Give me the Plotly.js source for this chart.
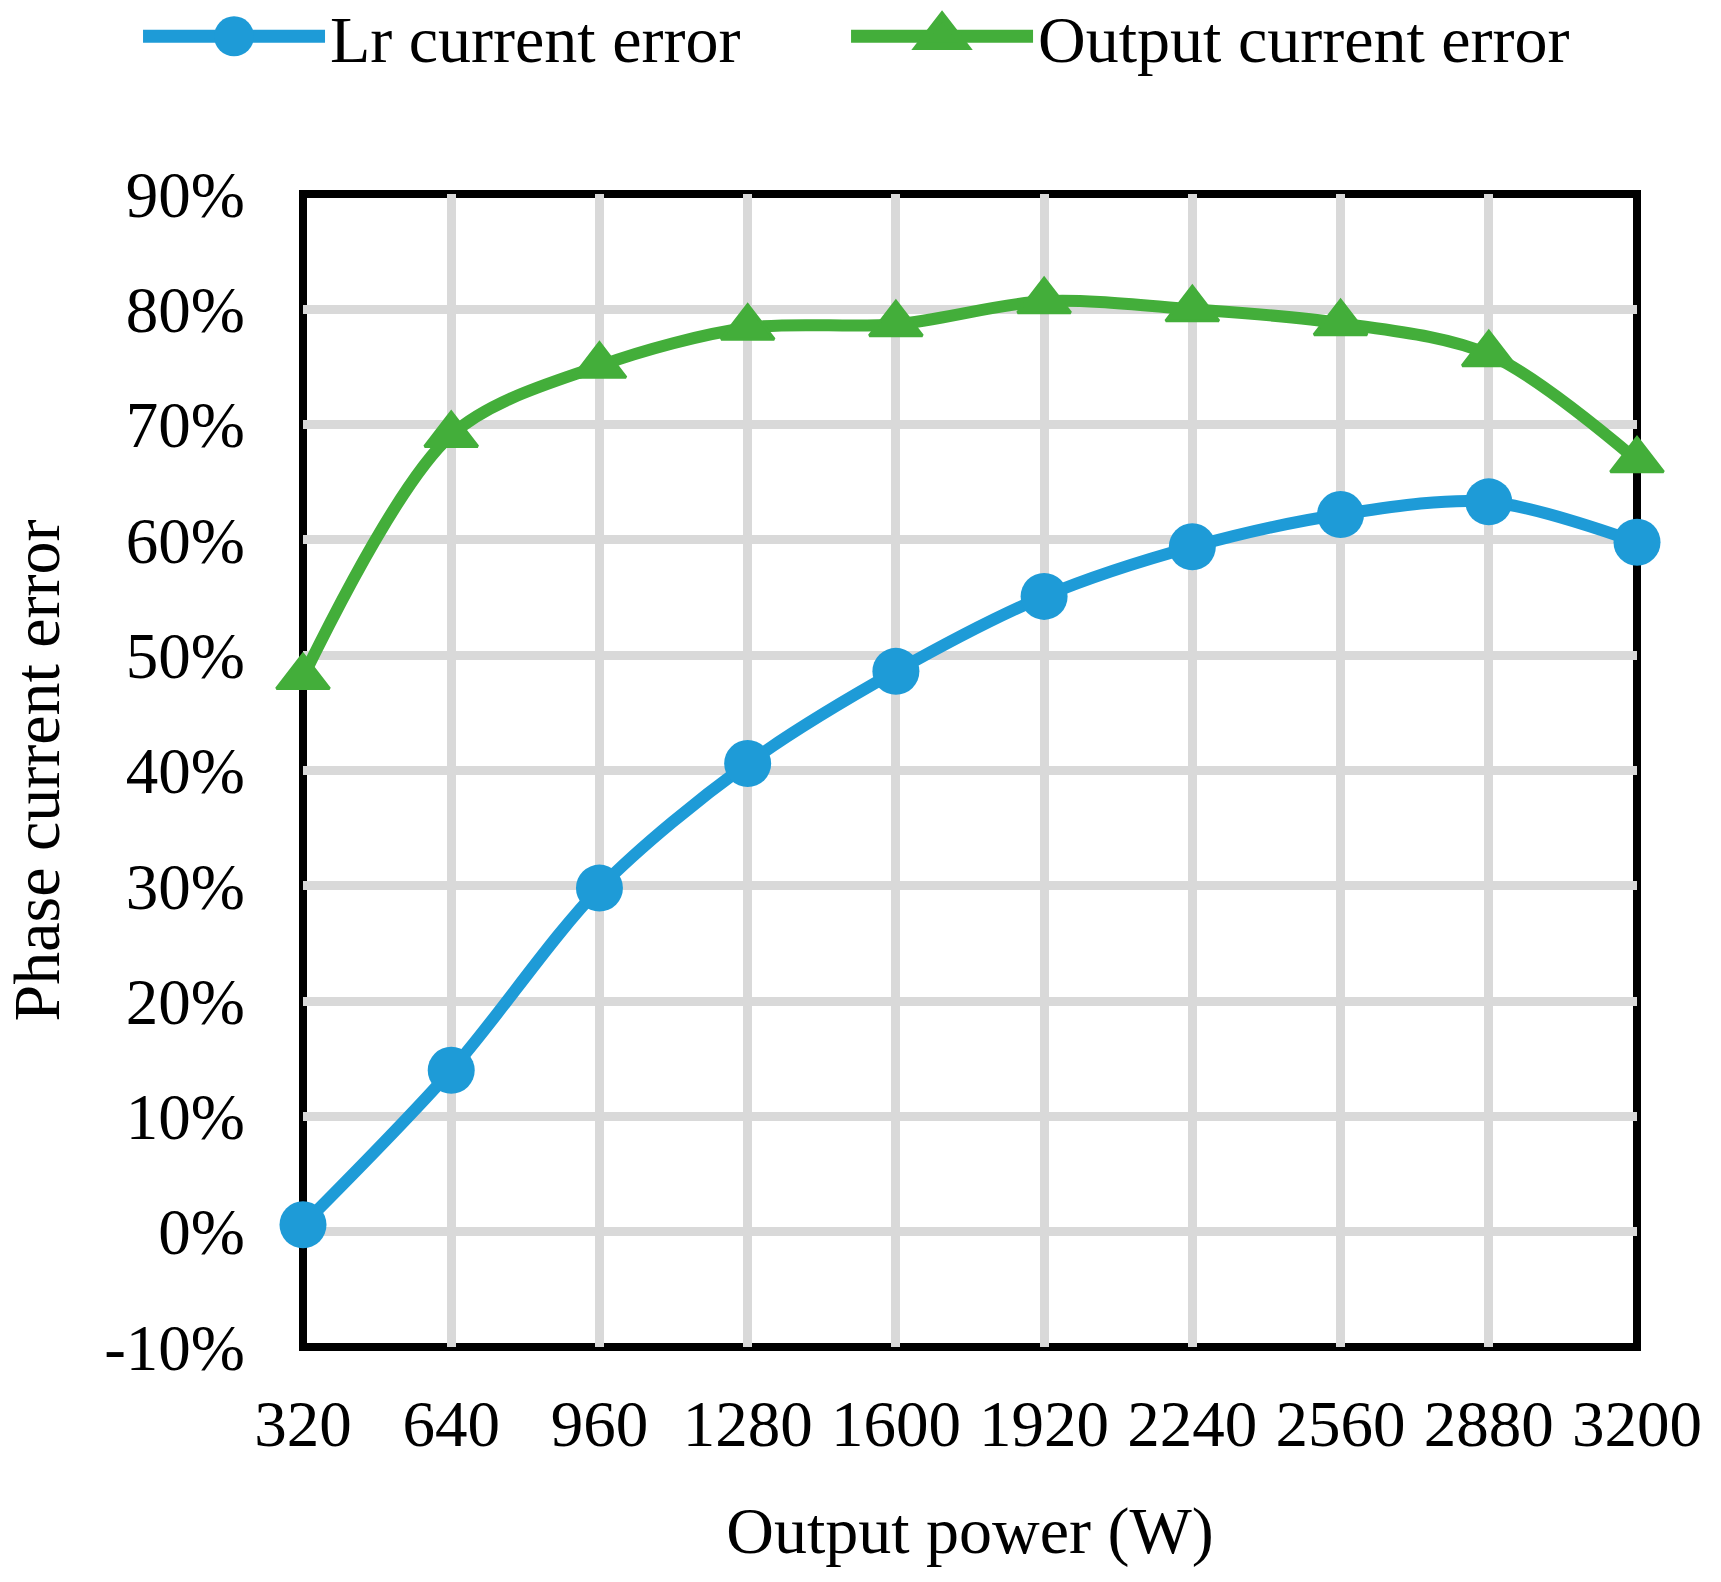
<!DOCTYPE html>
<html>
<head>
<meta charset="utf-8">
<script src="https://cdn.plot.ly/plotly-3.0.1.min.js"></script>
<style>
  html, body { margin: 0; padding: 0; background: #ffffff; }
  #chart { width: 1721px; height: 1582px; }
</style>
</head>
<body>
<div id="chart"></div>
<script>
// ---- data ----
var outputPower = [320, 640, 960, 1280, 1600, 1920, 2240, 2560, 2880, 3200];
var lrCurrentError = [0.6, 14.0, 29.8, 40.6, 48.6, 55.1, 59.4, 62.2, 63.3, 59.8];
var outputCurrentError = [48.1, 69.1, 75.1, 78.4, 78.7, 80.7, 80.0, 78.8, 76.1, 66.9];
var seriesNames = ['Lr current error', 'Output current error'];
var xTickVals = [320, 640, 960, 1280, 1600, 1920, 2240, 2560, 2880, 3200];
var xTickText = ['320', '640', '960', '1280', '1600', '1920', '2240', '2560', '2880', '3200'];
var yTickVals = [-10, 0, 10, 20, 30, 40, 50, 60, 70, 80, 90];
var yTickText = ['-10%', '0%', '10%', '20%', '30%', '40%', '50%', '60%', '70%', '80%', '90%'];
var xTitle = 'Output power (W)';
var yTitle = 'Phase current error';

var FONT = '"Liberation Serif", "Times New Roman", serif';
var BLUE = '#1E9BD7';
var GREEN = '#43AE3A';

var traces = [
  {
    x: outputPower, y: lrCurrentError, name: seriesNames[0], legend: 'legend',
    type: 'scatter', mode: 'lines+markers', cliponaxis: false,
    line: { color: BLUE, width: 12, shape: 'spline', smoothing: 0.9 },
    marker: { symbol: 'circle', size: 47, color: BLUE }
  },
  {
    x: outputPower, y: outputCurrentError, name: seriesNames[1], legend: 'legend2',
    type: 'scatter', mode: 'lines+markers', cliponaxis: false,
    line: { color: GREEN, width: 12, shape: 'spline', smoothing: 0.9 },
    marker: { symbol: 'triangle-up', size: 46, color: GREEN, line: { color: GREEN, width: 3 } }
  }
];

function legendStyle(xPos) {
  return {
    orientation: 'h',
    xref: 'container', yref: 'container',
    x: xPos, y: 0.977, xanchor: 'left', yanchor: 'middle',
    font: { family: FONT, size: 66, color: '#000000' },
    itemwidth: 182,
    bgcolor: 'rgba(0,0,0,0)'
  };
}

var layout = {
  width: 1721, height: 1582,
  paper_bgcolor: '#ffffff', plot_bgcolor: '#ffffff',
  margin: { l: 303, r: 84, t: 194, b: 235, pad: 0 },
  font: { family: FONT, size: 65, color: '#000000' },
  showlegend: true,
  legend: legendStyle(0.0802),
  legend2: legendStyle(0.4916),
  xaxis: {
    type: 'linear', range: [320, 3200],
    tickmode: 'array', tickvals: xTickVals, ticktext: xTickText,
    showgrid: true, gridcolor: '#D9D9D9', gridwidth: 9,
    zeroline: false, showline: false,
    ticks: 'outside', ticklen: 20, tickcolor: 'rgba(0,0,0,0)',
    tickfont: { family: FONT, size: 65, color: '#000000' },
    title: { text: xTitle, font: { family: FONT, size: 66, color: '#000000' }, standoff: 47 },
    automargin: false, fixedrange: true
  },
  yaxis: {
    type: 'linear', range: [-10, 90],
    tickmode: 'array', tickvals: yTickVals, ticktext: yTickText,
    showgrid: true, gridcolor: '#D9D9D9', gridwidth: 9,
    zeroline: false, showline: false,
    ticks: 'outside', ticklen: 44, tickcolor: 'rgba(0,0,0,0)',
    tickfont: { family: FONT, size: 65, color: '#000000' },
    title: { text: yTitle, font: { family: FONT, size: 66, color: '#000000' }, standoff: 47 },
    automargin: false, fixedrange: true
  },
  shapes: [
    {
      type: 'rect', xref: 'paper', yref: 'paper', x0: 0, x1: 1, y0: 0, y1: 1,
      line: { color: '#000000', width: 8 }, fillcolor: 'rgba(0,0,0,0)', layer: 'between'
    }
  ],
  hovermode: false
};

Plotly.newPlot('chart', traces, layout, { staticPlot: true, displayModeBar: false }).then(function (gd) {
  // enlarge legend symbols to match the reference's big markers / thick lines
  gd.querySelectorAll('.infolayer g.traces').forEach(function (it) {
    it.querySelectorAll('.legendlines path').forEach(function (p) {
      p.style.strokeWidth = '13px';
    });
    it.querySelectorAll('.legendpoints path.scatterpts').forEach(function (p) {
      var t = p.getAttribute('transform') || '';
      p.setAttribute('transform', t + ' scale(2.5)');
    });
  });
});
</script>
</body>
</html>
